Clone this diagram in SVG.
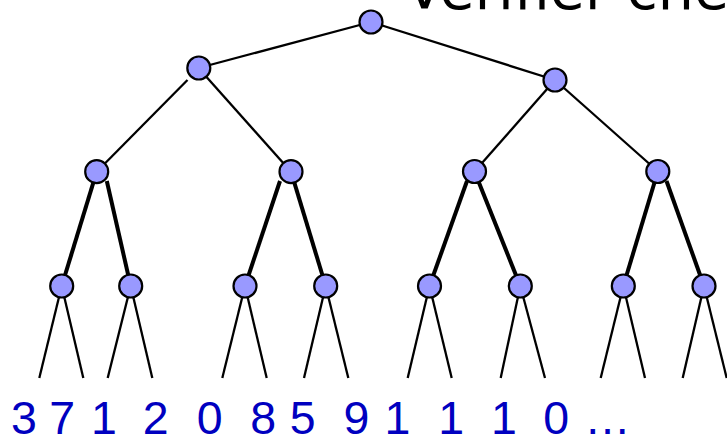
<svg xmlns="http://www.w3.org/2000/svg" width="727" height="438" viewBox="0 0 727 438">
<style>
.e{stroke:#000;stroke-width:2.3;fill:none}
.t{stroke:#000;stroke-width:4;fill:none}
.n{fill:#9999FF;stroke:#000;stroke-width:2.2}
.d{font-family:"Liberation Sans",Arial,sans-serif;font-size:46.5px;fill:#0000C0;text-anchor:middle}
.h{font-family:"DejaVu Sans",Verdana,sans-serif;font-size:57px;fill:#000}
</style>
<rect width="727" height="438" fill="#fff"/>
<text class="h" x="405" y="9">Verifier chec</text>
<g id="connectors">
<line class="e" x1="371" y1="22" x2="198.5" y2="68"/>
<line class="e" x1="371" y1="22" x2="555" y2="80"/>
<line class="e" x1="187.5" y1="80" x2="96.7" y2="171.7"/>
<line class="e" x1="198.5" y1="68" x2="291" y2="171.7"/>
<line class="e" x1="555" y1="80" x2="474.5" y2="171.5"/>
<line class="e" x1="555" y1="80" x2="658" y2="171.5"/>
<line class="t" x1="96.7" y1="171.7" x2="61.7" y2="286"/>
<line class="t" x1="106.8" y1="181" x2="130.7" y2="286"/>
<line class="t" x1="280" y1="181" x2="245" y2="286"/>
<line class="t" x1="291" y1="171.7" x2="325.7" y2="286"/>
<line class="t" x1="467" y1="181" x2="429.5" y2="286"/>
<line class="t" x1="474.5" y1="171.5" x2="520.3" y2="286"/>
<line class="t" x1="657.8" y1="171.5" x2="623.3" y2="286"/>
<line class="t" x1="666.5" y1="181" x2="704" y2="286"/>
<line class="e" x1="61.7" y1="286" x2="39.3" y2="378"/>
<line class="e" x1="61.7" y1="286" x2="83.3" y2="378"/>
<line class="e" x1="130.7" y1="286" x2="107.7" y2="378"/>
<line class="e" x1="130.7" y1="286" x2="152.3" y2="378"/>
<line class="e" x1="245" y1="286" x2="222.3" y2="378"/>
<line class="e" x1="245" y1="286" x2="266.7" y2="378"/>
<line class="e" x1="325.7" y1="286" x2="304" y2="378"/>
<line class="e" x1="325.7" y1="286" x2="348.3" y2="378"/>
<line class="e" x1="429.5" y1="286" x2="407.7" y2="378"/>
<line class="e" x1="429.5" y1="286" x2="451.7" y2="378"/>
<line class="e" x1="520.3" y1="286" x2="500.7" y2="378"/>
<line class="e" x1="520.3" y1="286" x2="545" y2="378"/>
<line class="e" x1="623.3" y1="286" x2="600.7" y2="378"/>
<line class="e" x1="623.3" y1="286" x2="645" y2="378"/>
<line class="e" x1="704" y1="286" x2="682.7" y2="378"/>
<line class="e" x1="704" y1="286" x2="726.7" y2="378"/>
</g>
<g id="n0"><circle class="n" cx="371" cy="22" r="11.5"/></g>
<g id="n1"><circle class="n" cx="198.8" cy="68" r="11.5"/></g>
<g id="n2"><circle class="n" cx="555" cy="80" r="11.5"/></g>
<g id="n3"><circle class="n" cx="96.7" cy="171.7" r="11.5"/></g>
<g id="n4"><circle class="n" cx="291" cy="171.7" r="11.5"/></g>
<g id="n5"><circle class="n" cx="474.5" cy="171.5" r="11.5"/></g>
<g id="n6"><circle class="n" cx="657.8" cy="171.5" r="11.5"/></g>
<g id="n7"><circle class="n" cx="61.7" cy="286" r="11.5"/></g>
<g id="n8"><circle class="n" cx="130.7" cy="286" r="11.5"/></g>
<g id="n9"><circle class="n" cx="245" cy="286" r="11.5"/></g>
<g id="n10"><circle class="n" cx="325.7" cy="286" r="11.5"/></g>
<g id="n11"><circle class="n" cx="429.5" cy="286" r="11.5"/></g>
<g id="n12"><circle class="n" cx="520.3" cy="286" r="11.5"/></g>
<g id="n13"><circle class="n" cx="623.3" cy="286" r="11.5"/></g>
<g id="n14"><circle class="n" cx="704" cy="286" r="11.5"/></g>
<g id="leaves">
<text class="d" x="23.9" y="434">3</text>
<text class="d" x="62.2" y="434">7</text>
<text class="d" x="104" y="434">1</text>
<text class="d" x="155.8" y="434">2</text>
<text class="d" x="209.7" y="434">0</text>
<text class="d" x="263.3" y="434">8</text>
<text class="d" x="302.8" y="434">5</text>
<text class="d" x="356.5" y="434">9</text>
<text class="d" x="397.5" y="434">1</text>
<text class="d" x="451.2" y="434">1</text>
<text class="d" x="504" y="434">1</text>
<text class="d" x="556.2" y="434">0</text>
<text class="d" x="607.5" y="434">…</text>
</g>
</svg>
